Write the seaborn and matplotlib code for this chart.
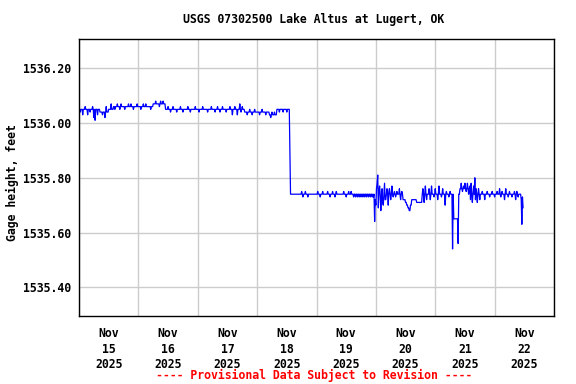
import numpy as np
import pandas as pd
import matplotlib
matplotlib.use("Agg")
import matplotlib.pyplot as plt
import matplotlib.dates as mdates
import seaborn as sns

# ---------------- data ----------------
start = pd.Timestamp("2025-11-15 00:00")
end_hour = 179.5          # last 15-min reading, hours after start

# baseline level changes: (hours after start, gage height ft)
base_hours = [0, 8.5, 12, 14, 30, 35, 67, 72, 77, 80, 85.25, 85.5,
              131, 132, 132.5, 133, 133.5, 134, 134.5, 136.5, 138.75,
              151.5, 153.5, 154, 158]
base_values = [1536.05, 1536.04, 1536.05, 1536.06, 1536.07, 1536.05, 1536.04,
               1536.04, 1536.03, 1536.05, 1535.89, 1535.74,
               1535.72, 1535.71, 1535.70, 1535.69, 1535.68, 1535.70, 1535.72,
               1535.71, 1535.74,
               1535.65, 1535.74, 1535.76, 1535.74]

# single-reading excursions: (hours after start, gage height ft)
spike_hours = [
    0.5, 1.5, 2.5, 3.5, 4.5, 5.5, 6.0, 6.5, 7.5, 9.5, 10.5, 11.0, 13.0, 14.5,
    15.5, 16.5, 17.0, 18.5, 20.0, 21.0, 22.0, 23.5,
    25.0, 26.0, 27.0, 29.0, 31.0, 32.5, 33.0, 34.0, 36.0, 37.0, 38.0, 39.5,
    41.0, 42.0, 44.0, 45.0, 47.0,
    48.5, 50.0, 52.0, 53.5, 55.0, 56.0, 57.0, 58.0, 59.5, 61.0, 62.0, 63.0,
    64.0, 65.0, 65.5, 66.0, 68.0, 69.0, 70.0, 71.0,
    73.0, 74.0, 75.5, 77.5, 78.0, 79.0, 81.0, 82.5, 84.0,
    90.0, 90.5, 91.5, 92.5, 96.5, 97.5, 98.5, 100.5, 101.5, 102.5, 103.5,
    104.0, 107.0, 108.0, 109.0, 110.0, 111.0, 111.75, 112.5, 113.25, 114.0,
    114.75, 115.5, 116.25, 117.0, 117.75, 118.5, 119.0,
    119.5, 119.75, 120.0, 120.25, 120.5, 120.75, 121.0, 121.25, 121.5, 122.0,
    122.25, 122.5, 122.75, 123.0, 123.5, 123.75, 124.0, 124.5, 125.0, 125.25,
    125.5, 126.0, 126.5, 127.0, 127.5, 128.0, 128.5, 129.5, 130.0, 130.5,
    139.0, 139.5, 140.0, 140.5, 141.5, 142.0, 142.5, 143.5, 144.0, 145.0,
    145.5, 146.5, 147.0, 148.0, 148.5, 149.5, 150.0,
    151.0, 153.25,
    154.5, 155.0, 155.5, 156.0, 156.5, 157.0, 157.5,
    158.0, 158.25, 158.5, 159.0, 159.5, 160.0, 160.25, 160.5, 161.0, 161.5,
    162.0,
    163.0, 164.0, 165.0, 166.0, 167.0, 168.0, 169.0, 170.0, 170.5, 171.0,
    172.0, 172.5, 173.5, 174.0, 175.0, 176.0, 176.5, 177.0, 177.5,
    178.75, 179.0, 179.25, 179.5]
spike_values = [
    1536.04, 1536.03, 1536.06, 1536.03, 1536.04, 1536.06, 1536.02, 1536.01,
    1536.03, 1536.03, 1536.02, 1536.06, 1536.07, 1536.05, 1536.07, 1536.05,
    1536.07, 1536.05, 1536.07, 1536.07, 1536.05, 1536.07,
    1536.05, 1536.07, 1536.07, 1536.05, 1536.08, 1536.06, 1536.08, 1536.08,
    1536.06, 1536.04, 1536.06, 1536.04, 1536.06, 1536.04, 1536.06, 1536.04,
    1536.06,
    1536.04, 1536.06, 1536.04, 1536.06, 1536.04, 1536.06, 1536.04, 1536.06,
    1536.04, 1536.06, 1536.03, 1536.06, 1536.03, 1536.07, 1536.04, 1536.06,
    1536.03, 1536.05, 1536.03, 1536.05,
    1536.03, 1536.05, 1536.03, 1536.02, 1536.04, 1536.04, 1536.04, 1536.04,
    1536.04,
    1535.75, 1535.73, 1535.75, 1535.73, 1535.75, 1535.73, 1535.75, 1535.75,
    1535.73, 1535.75, 1535.73, 1535.75, 1535.75, 1535.73, 1535.75, 1535.75,
    1535.73, 1535.73, 1535.73, 1535.73, 1535.73, 1535.73, 1535.73, 1535.73,
    1535.73, 1535.73, 1535.73, 1535.73,
    1535.64, 1535.72, 1535.70, 1535.76, 1535.78, 1535.81, 1535.69, 1535.75,
    1535.77, 1535.68, 1535.73, 1535.76, 1535.71, 1535.70, 1535.78, 1535.72,
    1535.72, 1535.76, 1535.70, 1535.75, 1535.76, 1535.72, 1535.77, 1535.73,
    1535.75, 1535.73, 1535.75, 1535.76, 1535.72, 1535.75,
    1535.76, 1535.71, 1535.77, 1535.72, 1535.76, 1535.72, 1535.77, 1535.73,
    1535.76, 1535.72, 1535.77, 1535.73, 1535.76, 1535.70, 1535.75, 1535.73,
    1535.75,
    1535.54, 1535.56,
    1535.78, 1535.75, 1535.77, 1535.78, 1535.75, 1535.78, 1535.74,
    1535.77, 1535.72, 1535.78, 1535.71, 1535.77, 1535.80, 1535.72, 1535.76,
    1535.71, 1535.76, 1535.72,
    1535.75, 1535.72, 1535.75, 1535.73, 1535.75, 1535.73, 1535.75, 1535.76,
    1535.73, 1535.75, 1535.72, 1535.76, 1535.73, 1535.75, 1535.73, 1535.75,
    1535.72, 1535.75, 1535.73,
    1535.72, 1535.63, 1535.73, 1535.69]

day_labels = ["Nov\n15\n2025", "Nov\n16\n2025", "Nov\n17\n2025", "Nov\n18\n2025",
              "Nov\n19\n2025", "Nov\n20\n2025", "Nov\n21\n2025", "Nov\n22\n2025"]
y_ticks = [1535.40, 1535.60, 1535.80, 1536.00, 1536.20]

# ---------------- build the 15-minute series ----------------
grid_hours = np.arange(0, end_hour + 0.001, 0.25)
idx = np.searchsorted(np.array(base_hours), grid_hours, side="right") - 1
vals = np.array(base_values)[idx]
for h, v in zip(spike_hours, spike_values):
    vals[int(round(h * 4))] = v
df = pd.DataFrame({"time": start + pd.to_timedelta(grid_hours, unit="h"),
                   "gage": vals})

# ---------------- plot ----------------
sns.set_style("white")
plt.rcParams["font.family"] = ["DejaVu Sans Mono"]
plt.rcParams["font.weight"] = "bold"
plt.rcParams["text.color"] = "black"
plt.rcParams["xtick.color"] = "black"
plt.rcParams["ytick.color"] = "black"
plt.rcParams["axes.labelcolor"] = "black"

fig = plt.figure(figsize=(5.76, 3.84), dpi=100)
ax = fig.add_axes([79 / 576, 1 - 316 / 384, (554 - 79) / 576, (316 - 39) / 384])

sns.lineplot(data=df, x="time", y="gage", ax=ax, color="#0000ff",
             linewidth=0.9, estimator=None, sort=False)

ax.set_xlim(start, start + pd.Timedelta(days=8))
ax.set_ylim(1535.295, 1536.307)

# x axis: labels at noon, grid at midnight
noon_ticks = [start + pd.Timedelta(hours=12 + 24 * i) for i in range(8)]
ax.set_xticks(noon_ticks)
ax.set_xticklabels(day_labels)
ax.xaxis.set_minor_locator(mdates.DayLocator())
ax.set_yticks(y_ticks)
ax.set_yticklabels([f"{v:.2f}" for v in y_ticks])

ax.grid(False)
ax.grid(which="minor", axis="x", color="#cccccc", linewidth=1.0)
ax.grid(which="major", axis="y", color="#cccccc", linewidth=1.0)
ax.set_axisbelow(True)

ax.tick_params(axis="both", which="both", length=0)
ax.tick_params(axis="x", which="major", pad=8, labelsize=8.3, labelcolor="black")
ax.tick_params(axis="y", which="major", pad=6, labelsize=8.3, labelcolor="black")
for lab in ax.get_xticklabels() + ax.get_yticklabels():
    lab.set_fontweight("bold")
    lab.set_linespacing(1.25)

for sp in ax.spines.values():
    sp.set_visible(True)
    sp.set_color("black")
    sp.set_linewidth(1.0)

ax.set_xlabel("")
ax.set_ylabel("")

fig.text(314 / 576, 1 - 20 / 384, "USGS 07302500 Lake Altus at Lugert, OK",
         ha="center", va="center", fontsize=8.3, fontweight="bold", color="black")
fig.text(12 / 576, 1 - 183 / 384, "Gage height, feet", rotation=90,
         ha="center", va="center", fontsize=8.3, fontweight="bold", color="black")
fig.text(314 / 576, 1 - 375 / 384, "---- Provisional Data Subject to Revision ----",
         ha="center", va="center", fontsize=8.3, fontweight="bold", color="#ff0000")

fig.savefig("out.png", dpi=100)
